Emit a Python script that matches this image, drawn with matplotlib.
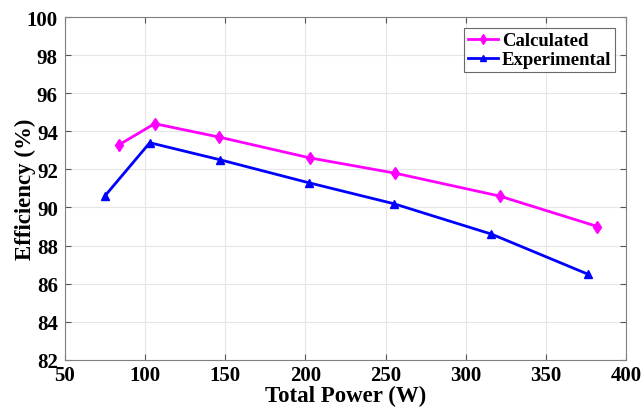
import matplotlib
matplotlib.use('Agg')
import matplotlib.pyplot as plt

# data
calc_power = [84, 106, 146, 203, 256, 321, 382]
calc_eff = [93.3, 94.4, 93.7, 92.6, 91.8, 90.6, 89.0]
exp_power = [75, 103, 147, 202, 255, 316, 376]
exp_eff = [90.6, 93.4, 92.5, 91.3, 90.2, 88.6, 86.5]

plt.rcParams['font.family'] = ['Liberation Serif', 'DejaVu Serif']
plt.rcParams['font.weight'] = 'bold'

fig = plt.figure(figsize=(6.41, 4.10), dpi=100)
ax = fig.add_axes([0.101, 0.120, 0.876, 0.836])

ax.plot(calc_power, calc_eff, color='#ff00ff', marker='d', markersize=6, lw=2, label='Calculated')
ax.plot(exp_power, exp_eff, color='#0000ff', marker='^', markersize=6, lw=2, label='Experimental')

ax.set_xlim(50, 400)
ax.set_ylim(82, 100)
ax.set_xticks(range(50, 401, 50))
ax.set_yticks(range(82, 101, 2))
ax.grid(True, color='#e6e6e6', lw=0.8)
ax.set_axisbelow(True)
ax.tick_params(direction='in', labelsize=15, top=True, right=True, length=4, color='#555555')
ax.tick_params(axis='y', pad=5)
ax.tick_params(axis='x', pad=4)
for s in ax.spines.values():
    s.set_color('#808080')
    s.set_linewidth(0.8)

ax.set_xlabel('Total Power (W)', fontsize=16.5, fontweight='bold')
ax.xaxis.set_label_coords(0.5, -0.072)
ax.set_ylabel('Efficiency (%)', fontsize=16.5, fontweight='bold')
ax.yaxis.set_label_coords(-0.052, 0.5)

leg = ax.legend(loc='upper right', prop={'weight': 'bold', 'size': 13.5},
                fancybox=False, edgecolor='#444444', handlelength=1.6, handletextpad=0.2,
                borderpad=0.2, labelspacing=0.1, borderaxespad=0.6, markerscale=0.8)
leg.get_frame().set_linewidth(0.8)

fig.savefig('out.png', dpi=100)
